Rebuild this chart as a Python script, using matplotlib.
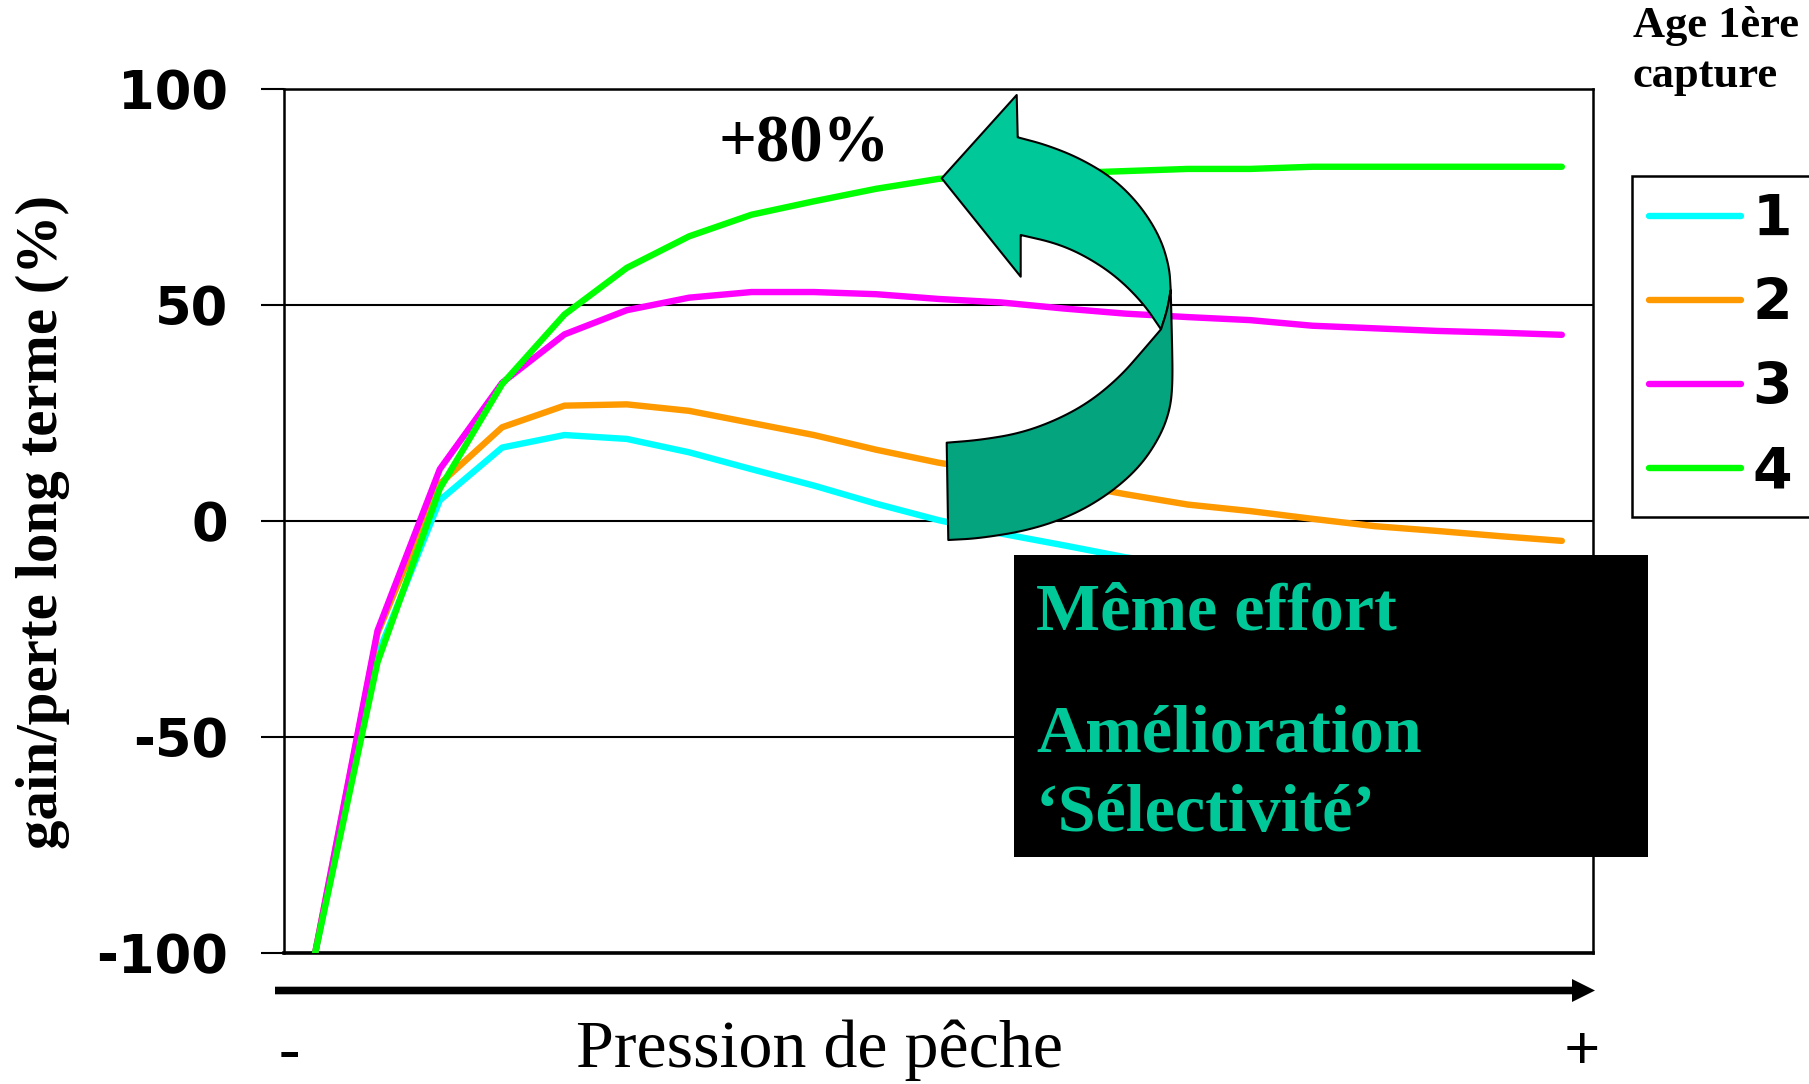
import numpy as np
import matplotlib
matplotlib.use('Agg')
from matplotlib import pyplot as plt
from matplotlib.patches import Polygon, Rectangle, FancyArrow

W, H = 1809, 1084

# fishing pressure steps (x axis is only qualitative: - to +)
pressure = np.arange(21)

# long-term gain/loss (%) for each age at first capture
age_1 = [-100, -31, 4.8, 17, 19.9, 19, 15.9, 12, 8.2, 4, 0.2, -2.9, -5.6, -8.4,
         -10.5, -12.5, -14, -15.5, -17, -18, -19]
age_2 = [-100, -26, 8.6, 21.7, 26.7, 27, 25.5, 22.7, 19.9, 16.5, 13.5, 11.2, 8.8, 6.2,
         3.8, 2.3, 0.5, -1.2, -2.3, -3.5, -4.6]
age_3 = [-100, -25.4, 12, 32, 43.2, 48.8, 51.7, 53, 53, 52.5, 51.4, 50.6, 49.2, 48,
         47.2, 46.5, 45.2, 44.6, 44, 43.6, 43.1]
age_4 = [-100, -32.7, 7.5, 31.7, 47.8, 58.6, 65.9, 70.9, 74, 76.9, 79.2, 80, 80.5, 81,
         81.5, 81.5, 82, 82, 82, 82, 82]

series = [age_1, age_2, age_3, age_4]
labels = ['1', '2', '3', '4']
colors = ['#00FFFF', '#FF9900', '#FF00FF', '#00FF00']
yticks = [-100, -50, 0, 50, 100]

teal_light = '#00C898'
teal_dark = '#03A47E'
serif = 'Liberation Serif'


def smooth(pts, n=3):
    # Chaikin corner cutting, keeps both end points
    pts = np.asarray(pts, float)
    for _ in range(n):
        q = 0.75 * pts[:-1] + 0.25 * pts[1:]
        r = 0.25 * pts[:-1] + 0.75 * pts[1:]
        mid = np.empty((2 * len(q), 2))
        mid[0::2] = q
        mid[1::2] = r
        pts = np.vstack([pts[0], mid, pts[-1]])
    return pts


plt.rcParams['axes.unicode_minus'] = False

fig = plt.figure(figsize=(W / 100, H / 100), dpi=100)
ax = fig.add_axes([284 / W, 1 - 953 / H, 1309 / W, 864 / H])

for values, color, label in zip(series, colors, labels):
    ax.plot(pressure, values, color=color, lw=4.6, label=label,
            solid_capstyle='round', solid_joinstyle='round', zorder=3)

ax.set_xlim(-0.5, 20.5)
ax.set_ylim(-100, 100)
ax.set_yticks(yticks)
ax.set_xticks([])
ax.set_axisbelow(True)
ax.grid(axis='y', color='black', lw=1.5)
ax.tick_params(axis='y', length=16.5, width=1.5, pad=24, labelsize=38)
for t in ax.get_yticklabels():
    t.set_fontweight('bold')
for side in ['left', 'right', 'top']:
    ax.spines[side].set_linewidth(1.8)
ax.spines['bottom'].set_linewidth(2.6)

leg = ax.legend(loc='upper left', bbox_to_anchor=(1632 / W, 1 - 176 / H),
                bbox_transform=fig.transFigure, borderaxespad=0,
                prop={'family': 'DejaVu Sans', 'weight': 'bold', 'size': 41},
                handlelength=1.62, handletextpad=0.2, borderpad=0.3,
                labelspacing=0.51, fancybox=False, edgecolor='black', framealpha=1)
leg.get_frame().set_linewidth(1.8)

# overlay in figure pixels for the annotations
ov = fig.add_axes([0, 0, 1, 1])
ov.set_xlim(0, W)
ov.set_ylim(H, 0)
ov.axis('off')

ov.text(43, 522, 'gain/perte long terme (%)', rotation=90, ha='center', va='center',
        family=serif, weight='bold', fontsize=42.5)
ov.text(1633, 37, 'Age 1ère', ha='left', va='baseline', family=serif,
        weight='bold', fontsize=32)
ov.text(1633, 87, 'capture', ha='left', va='baseline', family=serif,
        weight='bold', fontsize=32)
ov.text(718, 161, '+80%', ha='left', va='baseline', family=serif,
        weight='bold', fontsize=48)

# x axis arrow and labels
ov.add_patch(FancyArrow(275, 990.5, 1320, 0, width=7.6, head_width=23,
                        head_length=23, length_includes_head=True,
                        color='black', lw=0))
ov.text(819, 1067, 'Pression de pêche', ha='center', va='baseline',
        family=serif, fontsize=49)
ov.text(289, 1083, '-', ha='center', va='bottom', family=serif,
        weight='bold', fontsize=46)
ov.text(1582, 1083, '+', ha='center', va='bottom', family=serif,
        weight='bold', fontsize=46)

# curved 3D arrow, upper (light) and lower (dark) ribbon
light_outer = [(1017.7, 137.3), (1046.7, 145), (1080, 158.3), (1113.3, 178.3),
               (1140, 205), (1160, 236.7), (1169.3, 266.7), (1170.7, 290)]
light_inner = [(1161, 329.3), (1143.3, 303.3), (1116.7, 276.7), (1086.7, 256.7),
               (1056.7, 243.3), (1020.7, 235)]
seam = [(1170.7, 290), (1167.3, 310), (1161, 329.3)]
dark_outer = [(1170.7, 290), (1172, 340), (1172.7, 383.3), (1170, 410), (1160, 436.7),
              (1140, 466.7), (1110, 493.3), (1073.3, 515), (1030, 530), (980, 538.3),
              (948.3, 540)]
dark_inner = [(946.7, 442.7), (980, 440), (1020, 433.3), (1056.7, 420), (1090, 401.7),
              (1120, 376.7), (1143.3, 350), (1161, 329.3)]

light = np.vstack([[(941.7, 178.3), (1016.7, 95)], smooth(light_outer),
                   smooth(seam, 2)[1:], smooth(light_inner), [(1020.7, 276.7)]])
dark = np.vstack([smooth(dark_outer), smooth(dark_inner), smooth(seam, 2)[::-1][1:-1]])
ov.add_patch(Polygon(light, closed=True, fc=teal_light, ec='black', lw=1.5,
                     joinstyle='round'))
ov.add_patch(Polygon(dark, closed=True, fc=teal_dark, ec='black', lw=1.5,
                     joinstyle='round'))

# black message box
ov.add_patch(Rectangle((1014, 555), 633.5, 302, fc='black', ec='none'))
ov.text(1036, 630, 'Même effort', ha='left', va='baseline', family=serif,
        weight='bold', fontsize=49, color=teal_light)
ov.text(1036, 752, 'Amélioration', ha='left', va='baseline', family=serif,
        weight='bold', fontsize=49, color=teal_light)
ov.text(1036, 831, '\u2018Sélectivité\u2019', ha='left', va='baseline', family=serif,
        weight='bold', fontsize=49, color=teal_light)

fig.savefig('out.png', dpi=100)
